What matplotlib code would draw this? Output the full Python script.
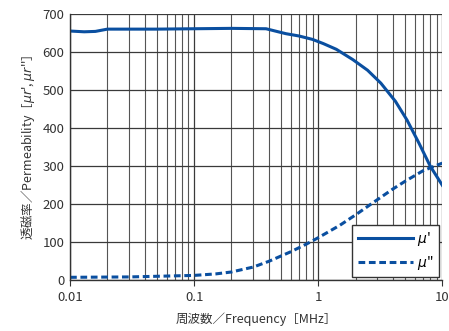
import numpy as np
import matplotlib.pyplot as plt
from matplotlib.ticker import LogLocator, NullFormatter, FixedLocator

plt.rcParams['font.family'] = ['Noto Sans CJK JP', 'DejaVu Sans']

# frequency [MHz]
freq1 = [0.01, 0.013, 0.016, 0.02, 0.05, 0.1, 0.2, 0.38, 0.45, 0.55, 0.7, 0.9, 1.1, 1.4,
         1.9, 2.5, 3.2, 4.2, 5.2, 6.5, 8.0, 10.0]
mu_real = [655, 653, 654, 660, 660, 661, 662, 661, 655, 648, 642, 633, 622, 607,
           580, 552, 518, 470, 421, 360, 300, 250]

freq2 = [0.01, 0.03, 0.1, 0.15, 0.2, 0.3, 0.4, 0.6, 0.8, 1.0, 1.5, 2.0, 3.0, 4.0, 5.0, 7.0, 10.0]
mu_imag = [8, 9, 13, 17, 22, 35, 50, 75, 95, 112, 145, 172, 212, 240, 260, 288, 308]

blue = '#0a4fa0'

fig, ax = plt.subplots(figsize=(4.49, 3.31), dpi=100)
fig.subplots_adjust(left=0.156, right=0.985, top=0.958, bottom=0.153)

ax.plot(freq1, mu_real, color=blue, lw=2.2, label="$\\mu$'")
ax.plot(freq2, mu_imag, color=blue, lw=2.2, ls=(0, (2.2, 1.2)), label='$\\mu$"')

ax.set_xscale('log')
ax.set_xlim(0.01, 10)
ax.set_ylim(0, 700)
ax.set_yticks(range(0, 701, 100))
ax.xaxis.set_major_locator(FixedLocator([0.01, 0.1, 1, 10]))
ax.set_xticklabels(['0.01', '0.1', '1', '10'])
ax.xaxis.set_minor_locator(LogLocator(base=10, subs=np.arange(2, 10)))
ax.xaxis.set_minor_formatter(NullFormatter())

ax.grid(True, which='major', color='#3a3a3a', lw=0.9)
ax.grid(True, which='minor', axis='x', color='#555555', lw=0.8)
ax.set_axisbelow(True)

for s in ['top', 'right']:
    ax.spines[s].set_visible(False)
for s in ['left', 'bottom']:
    ax.spines[s].set_color('#333333')
    ax.spines[s].set_linewidth(1.0)

ax.tick_params(axis='both', which='major', labelsize=9.5, colors='#333333', length=4)
ax.tick_params(axis='y', length=0, pad=4)
ax.tick_params(axis='x', which='minor', length=0)

ax.set_xlabel('周波数／Frequency［MHz］', fontsize=9, color='#333333', labelpad=6)
ax.set_ylabel("透磁率／Permeability［$\\mu r$', $\\mu r$''］", fontsize=9, color='#333333', labelpad=4)

leg = ax.legend(loc='lower right', bbox_to_anchor=(0.992, 0.011), borderaxespad=0,
                fontsize=10, frameon=True, fancybox=False, handlelength=4.0,
                borderpad=0.4, labelspacing=0.4, handletextpad=0.3)
leg.get_frame().set_edgecolor('#333333')
leg.get_frame().set_linewidth(1.0)
leg.get_frame().set_alpha(1)

plt.savefig('out.png', dpi=100)
